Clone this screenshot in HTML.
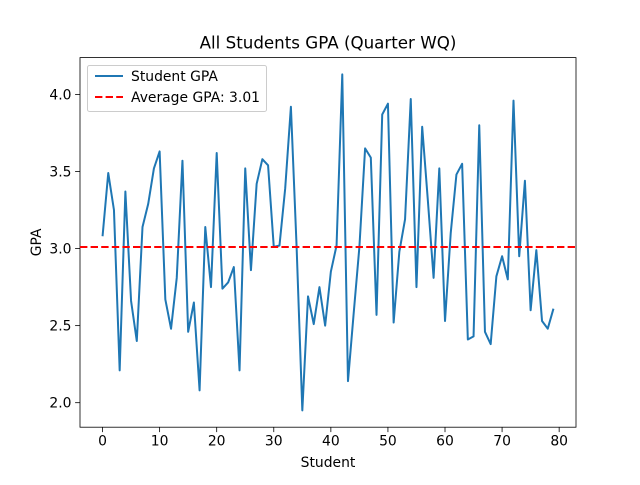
<!DOCTYPE html>
<html><head><meta charset="utf-8"><style>body{margin:0;background:#fff}svg text{font-family:"DejaVu Sans","Liberation Sans",sans-serif}</style></head>
<body>
<svg id="chart" width="640" height="480" xmlns="http://www.w3.org/2000/svg">
<rect width="640" height="480" fill="#fff"/>
<g id="plot"></g>
</svg>
<script>
const students = Array.from({length:80},(_, i)=>i);
const gpaValues = [3.08,3.49,3.25,2.21,3.37,2.66,2.40,3.14,3.29,3.52,3.63,2.67,2.48,2.81,3.57,2.46,2.65,2.08,3.14,2.75,3.62,2.74,2.78,2.88,2.21,3.52,2.86,3.42,3.58,3.54,3.01,3.02,3.39,3.92,3.01,1.95,2.69,2.51,2.75,2.50,2.85,3.02,4.13,2.14,2.58,3.01,3.65,3.59,2.57,3.87,3.94,2.52,2.98,3.19,3.97,2.75,3.79,3.31,2.81,3.52,2.53,3.10,3.48,3.55,2.41,2.43,3.80,2.46,2.38,2.82,2.95,2.80,3.96,2.95,3.44,2.60,2.99,2.53,2.48,2.61];
const averageGpa = 3.01;
const xTicks = [0,10,20,30,40,50,60,70,80];
const yTicks = [2.0,2.5,3.0,3.5,4.0];
const yTickLabels = ["2.0","2.5","3.0","3.5","4.0"];

const L=80,R=576,T=57.6,B=427.2;
const xmin=-3.95,xmax=82.95,ymin=1.841,ymax=4.239;
const sx=v=>L+(v-xmin)/(xmax-xmin)*(R-L);
const sy=v=>B-(v-ymin)/(ymax-ymin)*(B-T);
const NS="http://www.w3.org/2000/svg";
const g=document.getElementById('plot');
function mk(tag,attrs,parent){const e=document.createElementNS(NS,tag);for(const k in attrs)e.setAttribute(k,attrs[k]);(parent||g).appendChild(e);return e;}

const frame=mk('rect',{x:L,y:T,width:R-L,height:B-T,fill:'none',stroke:'#000','stroke-width':0.8});



xTicks.forEach(v=>{
  const x=sx(v);
  const t=mk('line',{x1:x,x2:x,y1:B,y2:B+4.9,stroke:'#000','stroke-width':0.8});
  
  
  const l=mk('text',{x:x,y:B+18.5,'text-anchor':'middle','font-size':13.9,fill:'#000'});
  l.textContent=v;
  
  
});
yTicks.forEach((v,i)=>{
  const y=sy(v);
  const t=mk('line',{x1:L-4.9,x2:L,y1:y,y2:y,stroke:'#000','stroke-width':0.8});
  
  
  const l=mk('text',{x:L-8.5,y:y+5,'text-anchor':'end','font-size':13.9,fill:'#000'});
  l.textContent=yTickLabels[i];
  
  
});

const pts=gpaValues.map((v,i)=>sx(students[i]).toFixed(2)+','+sy(v).toFixed(2)).join(' ');
const line=mk('polyline',{points:pts,fill:'none',stroke:'#1f77b4','stroke-width':2,'stroke-linejoin':'round'});



const avg=mk('line',{x1:L,x2:R,y1:sy(averageGpa),y2:sy(averageGpa),stroke:'#ff0000','stroke-width':2,'stroke-dasharray':'7.4,3.2'});



const title=mk('text',{x:(L+R)/2,y:T-9,'text-anchor':'middle','font-size':16.7,fill:'#000'});
title.textContent='All Students GPA (Quarter WQ)';


const xl=mk('text',{x:(L+R)/2,y:467,'text-anchor':'middle','font-size':13.9,fill:'#000'});
xl.textContent='Student';


const yl=mk('text',{x:0,y:0,'text-anchor':'middle','font-size':13.9,fill:'#000',transform:'translate(41,'+((T+B)/2)+') rotate(-90)'});
yl.textContent='GPA';



const lg=mk('g',{});


mk('rect',{x:87.5,y:65.5,width:179,height:46,rx:2,fill:'#fff','fill-opacity':0.8,stroke:'#ccc','stroke-width':1},lg);
const l1=mk('line',{x1:95,x2:123,y1:76,y2:76,stroke:'#1f77b4','stroke-width':2},lg);


const t1=mk('text',{x:131,y:81,'font-size':13.9,fill:'#000'},lg);
t1.textContent='Student GPA';


const l2=mk('line',{x1:95,x2:123,y1:97,y2:97,stroke:'#ff0000','stroke-width':2,'stroke-dasharray':'7.4,3.2'},lg);


const t2=mk('text',{x:131,y:102,'font-size':13.9,fill:'#000'},lg);
t2.textContent='Average GPA: 3.01';


</script>
</body></html>
